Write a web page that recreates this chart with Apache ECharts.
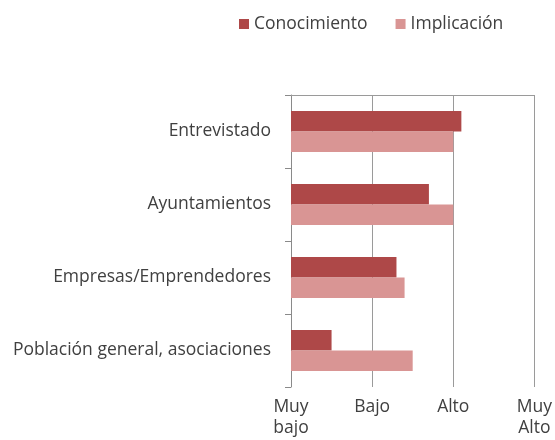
<!DOCTYPE html>
<html>
<head>
<meta charset="utf-8">
<script src="https://cdn.jsdelivr.net/npm/echarts@6/dist/echarts.min.js"></script>
<style>
  html, body { margin: 0; padding: 0; background: #fff; }
  #chart { width: 555px; height: 440px; }
</style>
</head>
<body>
<div id="chart"></div>
<script>
const categories = ['Entrevistado', 'Ayuntamientos', 'Empresas/Emprendedores', 'Población general, asociaciones']
const conocimiento = [2.1, 1.7, 1.3, 0.5]
const implicacion = [2.0, 2.0, 1.4, 1.5]
const levelLabels = ['Muy\nbajo', 'Bajo', 'Alto', 'Muy\nAlto']

const textColor = '#404040'
const fontFamily = '"Open Sans", sans-serif'
const fontSize = 17.5

const chart = echarts.init(document.getElementById('chart'))
chart.setOption({
  animation: false,
  textStyle: { fontFamily: fontFamily },
  legend: {
    top: 10,
    left: 234,
    icon: 'rect',
    itemWidth: 10,
    itemHeight: 10,
    itemGap: 28,
    textStyle: { fontSize: fontSize, color: textColor, fontFamily: fontFamily }
  },
  grid: { left: 291, right: 18, top: 95, bottom: 53 },
  xAxis: [
    {
      type: 'value',
      min: 0,
      max: 3,
      interval: 1,
      axisLine: { show: false },
      axisTick: { show: false },
      splitLine: { show: true, lineStyle: { color: '#9a9a9a', width: 1 } },
      axisLabel: {
        fontSize: fontSize,
        color: textColor,
        lineHeight: 21,
        margin: 10,
        formatter: v => levelLabels[v]
      }
    },
    {
      type: 'value',
      position: 'top',
      min: 0,
      max: 3,
      axisLine: { show: true, lineStyle: { color: '#9a9a9a' } },
      axisTick: { show: false },
      axisLabel: { show: false },
      splitLine: { show: false }
    }
  ],
  yAxis: {
    type: 'category',
    inverse: true,
    data: categories,
    axisLine: { show: true, lineStyle: { color: '#8a8a8a' } },
    axisTick: { show: true, length: 6, lineStyle: { color: '#8a8a8a' } },
    axisLabel: { fontSize: fontSize, color: textColor, margin: 20 }
  },
  series: [
    {
      name: 'Conocimiento',
      type: 'bar',
      data: conocimiento,
      barGap: '0%',
      barCategoryGap: '44%',
      itemStyle: { color: '#ae4848' }
    },
    {
      name: 'Implicación',
      type: 'bar',
      data: implicacion,
      barGap: '0%',
      barCategoryGap: '44%',
      itemStyle: { color: '#d99594' }
    }
  ]
})
</script>
</body>
</html>
